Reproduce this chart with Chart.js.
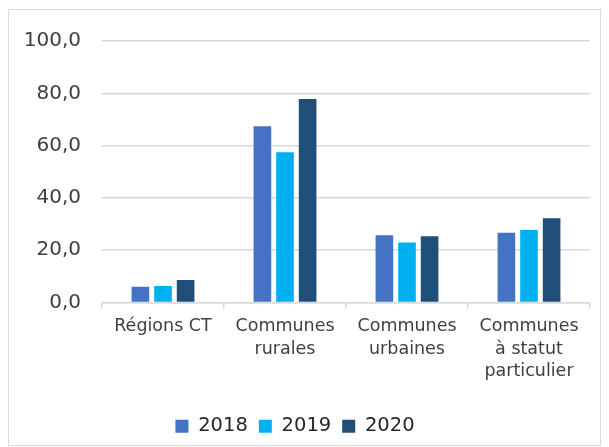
<!DOCTYPE html>
<html>
<head>
<meta charset="utf-8">
<script src="https://cdn.jsdelivr.net/npm/chart.js@4"></script>
<style>
  body { margin: 0; background: #fff; }
  #wrap { width: 609px; height: 447px; position: relative; }
</style>
</head>
<body>
<div id="wrap"><canvas id="barChart" width="609" height="447"></canvas></div>
<script>
const categories = [['Régions CT'], ['Communes', 'rurales'], ['Communes', 'urbaines'], ['Communes', 'à statut', 'particulier']];
const years = ['2018', '2019', '2020'];
const values2018 = [6.0, 67.4, 25.7, 26.7];
const values2019 = [6.3, 57.5, 22.9, 27.7];
const values2020 = [8.6, 77.8, 25.3, 32.2];
const colors = ['#4472C4', '#00B0F0', '#1F4E79'];

const fontName = '"DejaVu Sans", sans-serif';
const textColor = '#404040';

// light grey frame around the whole chart
const framePlugin = {
  id: 'frame',
  beforeDraw: (chart) => {
    const c = chart.ctx;
    c.save();
    c.fillStyle = '#fff';
    c.fillRect(0, 0, chart.width, chart.height);
    c.strokeStyle = '#d9d9d9';
    c.lineWidth = 1;
    c.strokeRect(8.5, 9.5, 592, 436);
    c.restore();
  }
};

var ctx = document.getElementById('barChart').getContext('2d');
var barChart = new Chart(ctx, {
  type: 'bar',
  data: {
    labels: categories,
    datasets: [values2018, values2019, values2020].map((vals, i) => ({
      label: years[i],
      data: vals,
      backgroundColor: colors[i],
      categoryPercentage: 0.556,
      barPercentage: 0.78
    }))
  },
  options: {
    responsive: false,
    animation: false,
    layout: { padding: { top: 41, right: 19, bottom: 1, left: 0 } },
    plugins: {
      tooltip: { enabled: false },
      legend: {
        display: true,
        position: 'bottom',
        labels: {
          boxWidth: 13,
          boxHeight: 13,
          padding: 11,
          color: '#262626',
          font: { family: fontName, size: 19.5 }
        }
      }
    },
    scales: {
      x: {
        grid: { offset: true, drawOnChartArea: false, drawTicks: true, tickLength: 6, color: '#d9d9d9', lineWidth: 1.5 },
        border: { color: '#d9d9d9', width: 1.5 },
        ticks: { color: textColor, font: { family: fontName, size: 17.5, lineHeight: 1.29 }, maxRotation: 0, autoSkip: false, padding: 7 },
        afterFit: (scale) => { scale.height = 103; }
      },
      y: {
        min: 0,
        max: 100,
        border: { display: false },
        grid: { color: '#d9d9d9', lineWidth: 1.5, drawTicks: false },
        ticks: {
          stepSize: 20,
          color: textColor,
          padding: 21,
          font: { family: fontName, size: 20 },
          callback: (v) => v.toFixed(1).replace('.', ',')
        },
        afterFit: (scale) => { scale.width = 102; }
      }
    }
  },
  plugins: [framePlugin]
});
</script>
</body>
</html>
